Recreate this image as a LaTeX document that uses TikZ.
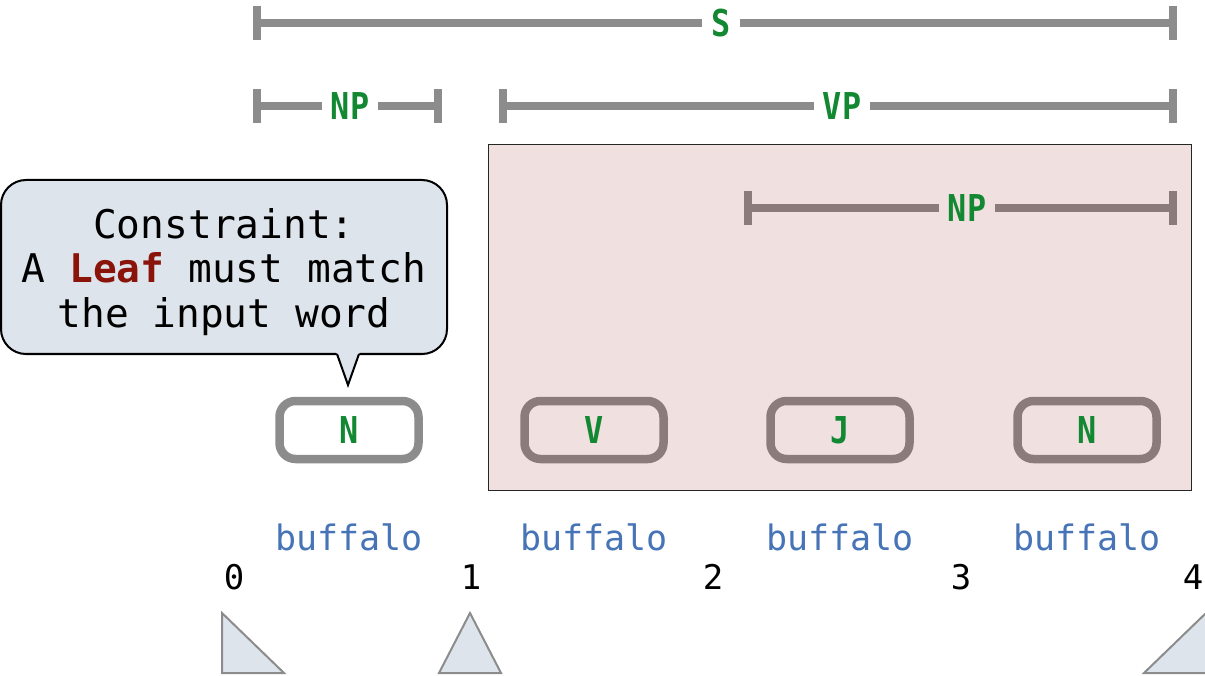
\documentclass[tikz,border=0pt]{standalone}
\usepackage{fontspec}
\setmonofont{DejaVu Sans Mono}
\newfontfamily\lblfont[FakeStretch=0.86]{DejaVu Sans Mono}
\definecolor{lblgreen}{RGB}{18,136,50}
\definecolor{brgray}{RGB}{140,140,140}
\definecolor{pkgray}{RGB}{139,123,123}
\definecolor{pinkbg}{RGB}{240,224,224}
\definecolor{callfill}{RGB}{221,228,235}
\definecolor{wordblue}{RGB}{70,116,182}
\definecolor{leafred}{RGB}{139,20,10}
\begin{document}
\begin{tikzpicture}[x=1pt,y=-1pt,
  brk/.style={line width=8pt,draw=brgray},
  brkin/.style={line width=8pt,draw=pkgray},
  lbl/.style={font=\lblfont\bfseries\fontsize{37}{40}\selectfont,text=lblgreen,inner xsep=9pt,inner ysep=0pt,outer sep=0pt},
  leaf/.style={draw=brgray,line width=8.5pt,rounded corners=16pt,minimum width=139pt,minimum height=58pt,inner sep=0pt,font=\lblfont\bfseries\fontsize{37}{40}\selectfont,text=lblgreen},
  leafin/.style={leaf,draw=pkgray},
  word/.style={font=\ttfamily\fontsize{35}{38}\selectfont,text=wordblue,inner sep=0pt},
  num/.style={font=\ttfamily\fontsize{34}{36}\selectfont,text=black,inner sep=0pt},
  tri/.style={fill=callfill,draw=brgray,line width=2pt,line join=miter},
  callout/.style={fill=callfill,draw=black,line width=2pt,rounded corners=25pt,minimum width=446pt,minimum height=174pt},
  ctext/.style={align=center,font=\ttfamily\fontsize{39.5}{44.5}\selectfont,inner sep=0pt}
]
\useasboundingbox (0,0) rectangle (1205,676);
% shaded VP region
\draw[fill=pinkbg,draw=black!85,line width=1pt] (488,145) rectangle (1191,490);

% S bracket
\coordinate (sL) at (257,23); \coordinate (sR) at (1173,23);
\node[lbl] (sT) at (721,23) {S};
\draw[brk] (sL) -- (sT.west) (sT.east) -- (sR);
\draw[brk] ([yshift=-17pt]sL) -- ([yshift=17pt]sL);
\draw[brk] ([yshift=-17pt]sR) -- ([yshift=17pt]sR);

% NP bracket (top left)
\coordinate (npL) at (257,106); \coordinate (npR) at (438,106);
\node[lbl] (npT) at (350,106) {NP};
\draw[brk] (npL) -- (npT.west) (npT.east) -- (npR);
\draw[brk] ([yshift=-17pt]npL) -- ([yshift=17pt]npL);
\draw[brk] ([yshift=-17pt]npR) -- ([yshift=17pt]npR);

% VP bracket
\coordinate (vpL) at (503,106); \coordinate (vpR) at (1173,106);
\node[lbl] (vpT) at (842,106) {VP};
\draw[brk] (vpL) -- (vpT.west) (vpT.east) -- (vpR);
\draw[brk] ([yshift=-17pt]vpL) -- ([yshift=17pt]vpL);
\draw[brk] ([yshift=-17pt]vpR) -- ([yshift=17pt]vpR);

% inner NP bracket
\coordinate (np2L) at (748,208); \coordinate (np2R) at (1173,208);
\node[lbl] (np2T) at (967,208) {NP};
\draw[brkin] (np2L) -- (np2T.west) (np2T.east) -- (np2R);
\draw[brkin] ([yshift=-17pt]np2L) -- ([yshift=17pt]np2L);
\draw[brkin] ([yshift=-17pt]np2R) -- ([yshift=17pt]np2R);

% leaves
\node[leaf] (l1) at (349,430) {N};
\node[leafin] (l2) at (594,430) {V};
\node[leafin] (l3) at (840,430) {J};
\node[leafin] (l4) at (1087,430) {N};

% words
\node[word] (w1) at (349,537) {buffalo};
\node[word] (w2) at (594,537) {buffalo};
\node[word] (w3) at (840,537) {buffalo};
\node[word] (w4) at (1087,537) {buffalo};

% positions
\node[num] (p0) at (234,577) {0};
\node[num] (p1) at (471,577) {1};
\node[num] (p2) at (713,577) {2};
\node[num] (p3) at (961,577) {3};
\node[num] (p4) at (1193,577) {4};

% triangles
\draw[tri] (222,613) -- (222,673) -- (284,673) -- cycle;
\draw[tri] (470,613) -- (439,673) -- (501,673) -- cycle;
\draw[tri] (1206,613) -- (1144,673) -- (1206,673) -- cycle;

% callout
\node[callout] (cons) at (224,267) {};
\node[ctext] (constext) at (224,272) {Constraint:\\A {\bfseries\color{leafred}Leaf} must match\\the input word};
\coordinate (tipL) at (337,354); \coordinate (tipR) at (359,354); \coordinate (tip) at (348,385);
\fill[callfill] (336,351.5) -- (360,351.5) -- (tip) -- cycle;
\draw[line width=2pt,line join=miter] (tipL) -- (tip) -- (tipR);
\end{tikzpicture}
\end{document}
